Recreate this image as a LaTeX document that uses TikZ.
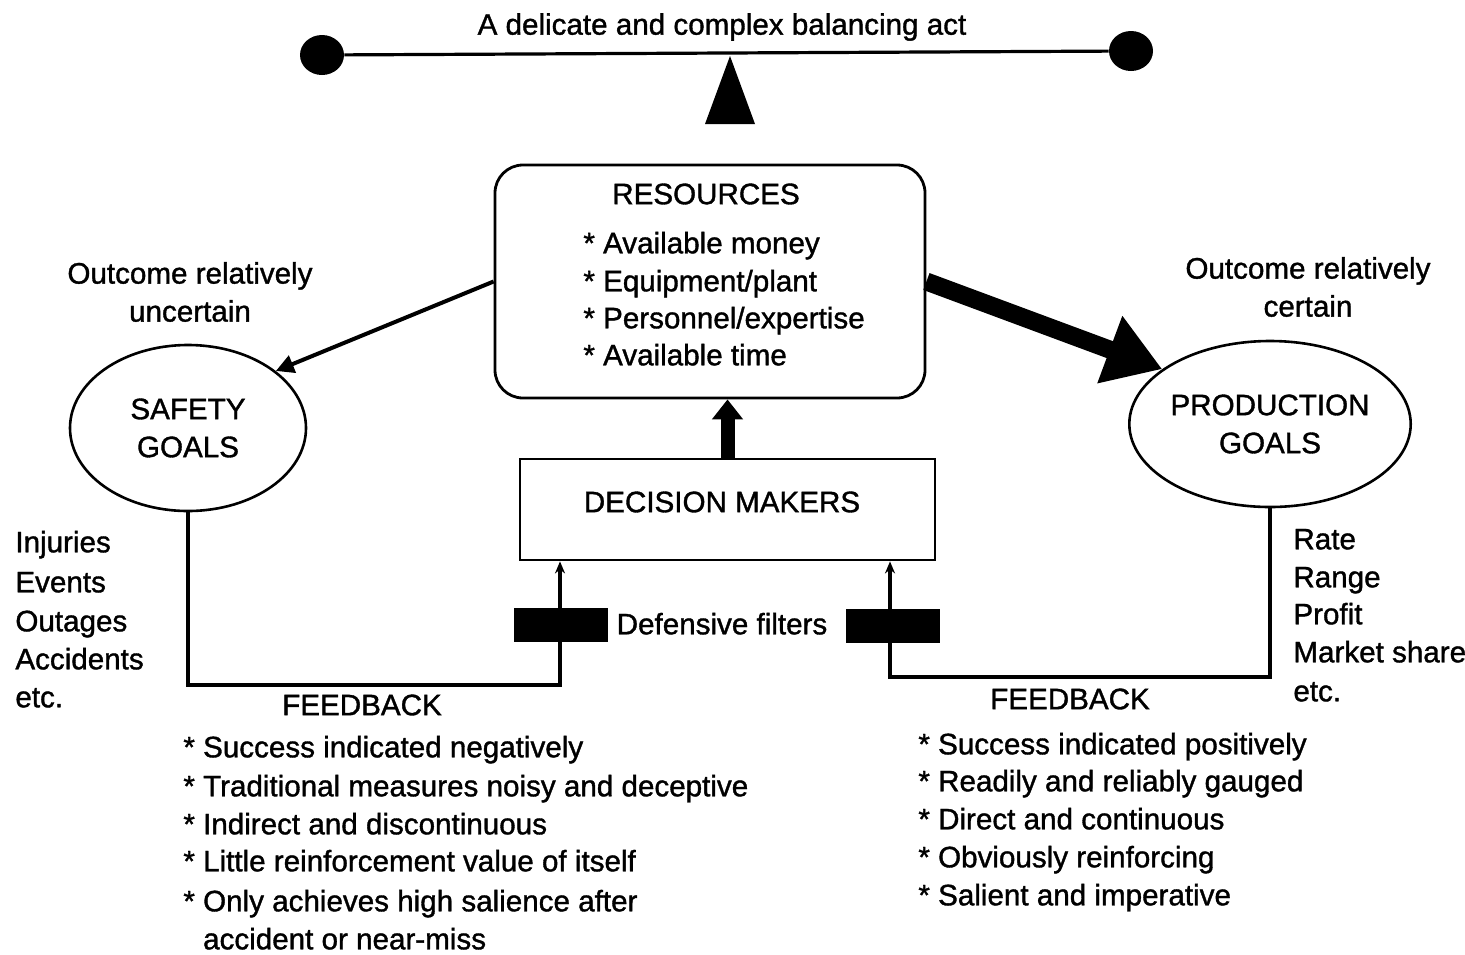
\documentclass[tikz,border=0pt]{standalone}
\usepackage{fontspec}
\setmainfont{Liberation Sans}
\newfontfamily\heavyfont{Liberation Sans}[FakeBold=1.2]
\usetikzlibrary{shapes.geometric,arrows.meta}
\newcommand\dfont{\heavyfont\fontsize{14.8}{19}\selectfont}
\begin{document}
\begin{tikzpicture}[x=0.5pt,y=-0.5pt,
  lbl/.style={inner sep=0pt, font=\dfont},
  goal/.style={ellipse, draw, line width=1.3pt, minimum width=118pt, minimum height=83pt, inner sep=0pt, align=center, font=\dfont},
  filt/.style={fill=black, draw=none, minimum width=47pt, minimum height=17pt, inner sep=0pt},
  fb/.style={line width=2.2pt},
  dot/.style={ellipse, fill=black, minimum width=22pt, minimum height=20pt, inner sep=0pt},
  frame/.style={draw, line width=1.4pt}
]
\useasboundingbox (0,0) rectangle (1465,954);
\fill[white] (0,0) rectangle (1465,954);

% balance beam
\node[dot] (ldot) at (322,55) {};
\node[dot] (rdot) at (1131,51) {};
\draw[line width=1.6pt] (ldot) -- (rdot);
\coordinate (pivot) at (730,56);
\fill (pivot) -- (755,124) -- (705,124) -- cycle;
\node[lbl] (title) at (722,27) {A delicate and complex balancing act};

% resources
\node[frame, rounded corners=14pt, minimum width=215pt, minimum height=116.5pt] (res) at (710,281.5) {};
\node[lbl] (restitle) at (706,194) {RESOURCES};
\node[lbl, anchor=mid west] (r1) at (583,248) {* Available money};
\node[lbl, anchor=mid west] (r2) at (583,286) {* Equipment/plant};
\node[lbl, anchor=mid west] (r3) at (583,323) {* Personnel/expertise};
\node[lbl, anchor=mid west] (r4) at (583,360) {* Available time};

% goals
\node[goal] (safety) at (188,428) {SAFETY\\GOALS};
\node[goal] (prod) at (1270,424) {PRODUCTION\\GOALS};
\node[lbl, align=center] (unc) at (190,292) {Outcome relatively\\uncertain};
\node[lbl, align=center] (cert) at (1308,287) {Outcome relatively\\certain};

\draw[line width=2pt, -{Triangle[length=9pt,width=9pt]}] (res.west) -- (safety.33);
\draw[line width=9pt, -{Triangle[length=28pt,width=34pt]}] (res.east) -- (prod.153);

% decision makers
\node[frame, minimum width=207.5pt, minimum height=50.5pt] (dm) at (727.5,509.5) {};
\node[lbl] (dmtext) at (722,502) {DECISION MAKERS};
\draw[line width=7pt, -{Triangle[length=10pt,width=15pt]}] (dm.north) -- (dm.north |- res.south);

% feedback loops
\coordinate (lcorner) at (560,685);
\coordinate (rcorner) at (890,677);
\draw[fb, -{Stealth[length=6pt,width=5pt]}] (safety.south) |- (lcorner) -- (lcorner |- dm.south);
\draw[fb, -{Stealth[length=6pt,width=5pt]}] (prod.south) |- (rcorner) -- (rcorner |- dm.south);
\node[filt] (lfilt) at (561,625) {};
\node[filt] (rfilt) at (893,626) {};
\node[lbl, anchor=mid] (deff) at (722,629) {Defensive filters};
\node[lbl] (fbl) at (362,705) {FEEDBACK};
\node[lbl] (fbr) at (1070,699) {FEEDBACK};

% left measures
\node[lbl, anchor=mid west] (l1) at (15,547) {Injuries};
\node[lbl, anchor=mid west] (l2) at (15,587) {Events};
\node[lbl, anchor=mid west] (l3) at (15,626) {Outages};
\node[lbl, anchor=mid west] (l4) at (15,664) {Accidents};
\node[lbl, anchor=mid west] (l5) at (15,702) {etc.};

% right measures
\node[lbl, anchor=mid west] (m1) at (1293,544) {Rate};
\node[lbl, anchor=mid west] (m2) at (1293,582) {Range};
\node[lbl, anchor=mid west] (m3) at (1293,619) {Profit};
\node[lbl, anchor=mid west] (m4) at (1293,657) {Market share};
\node[lbl, anchor=mid west] (m5) at (1293,696) {etc.};

% left feedback characteristics
\node[lbl, anchor=mid west] (a1) at (183,752) {* Success indicated negatively};
\node[lbl, anchor=mid west] (a2) at (183,791) {* Traditional measures noisy and deceptive};
\node[lbl, anchor=mid west] (a3) at (183,829) {* Indirect and discontinuous};
\node[lbl, anchor=mid west] (a4) at (183,866) {* Little reinforcement value of itself};
\node[lbl, anchor=mid west] (a5) at (183,906) {* Only achieves high salience after};
\node[lbl, anchor=mid west] (a6) at (183,944) {\phantom{* }accident or near-miss};

% right feedback characteristics
\node[lbl, anchor=mid west] (b1) at (918,749) {* Success indicated positively};
\node[lbl, anchor=mid west] (b2) at (918,786) {* Readily and reliably gauged};
\node[lbl, anchor=mid west] (b3) at (918,824) {* Direct and continuous};
\node[lbl, anchor=mid west] (b4) at (918,862) {* Obviously reinforcing};
\node[lbl, anchor=mid west] (b5) at (918,900) {* Salient and imperative};
\end{tikzpicture}
\end{document}
